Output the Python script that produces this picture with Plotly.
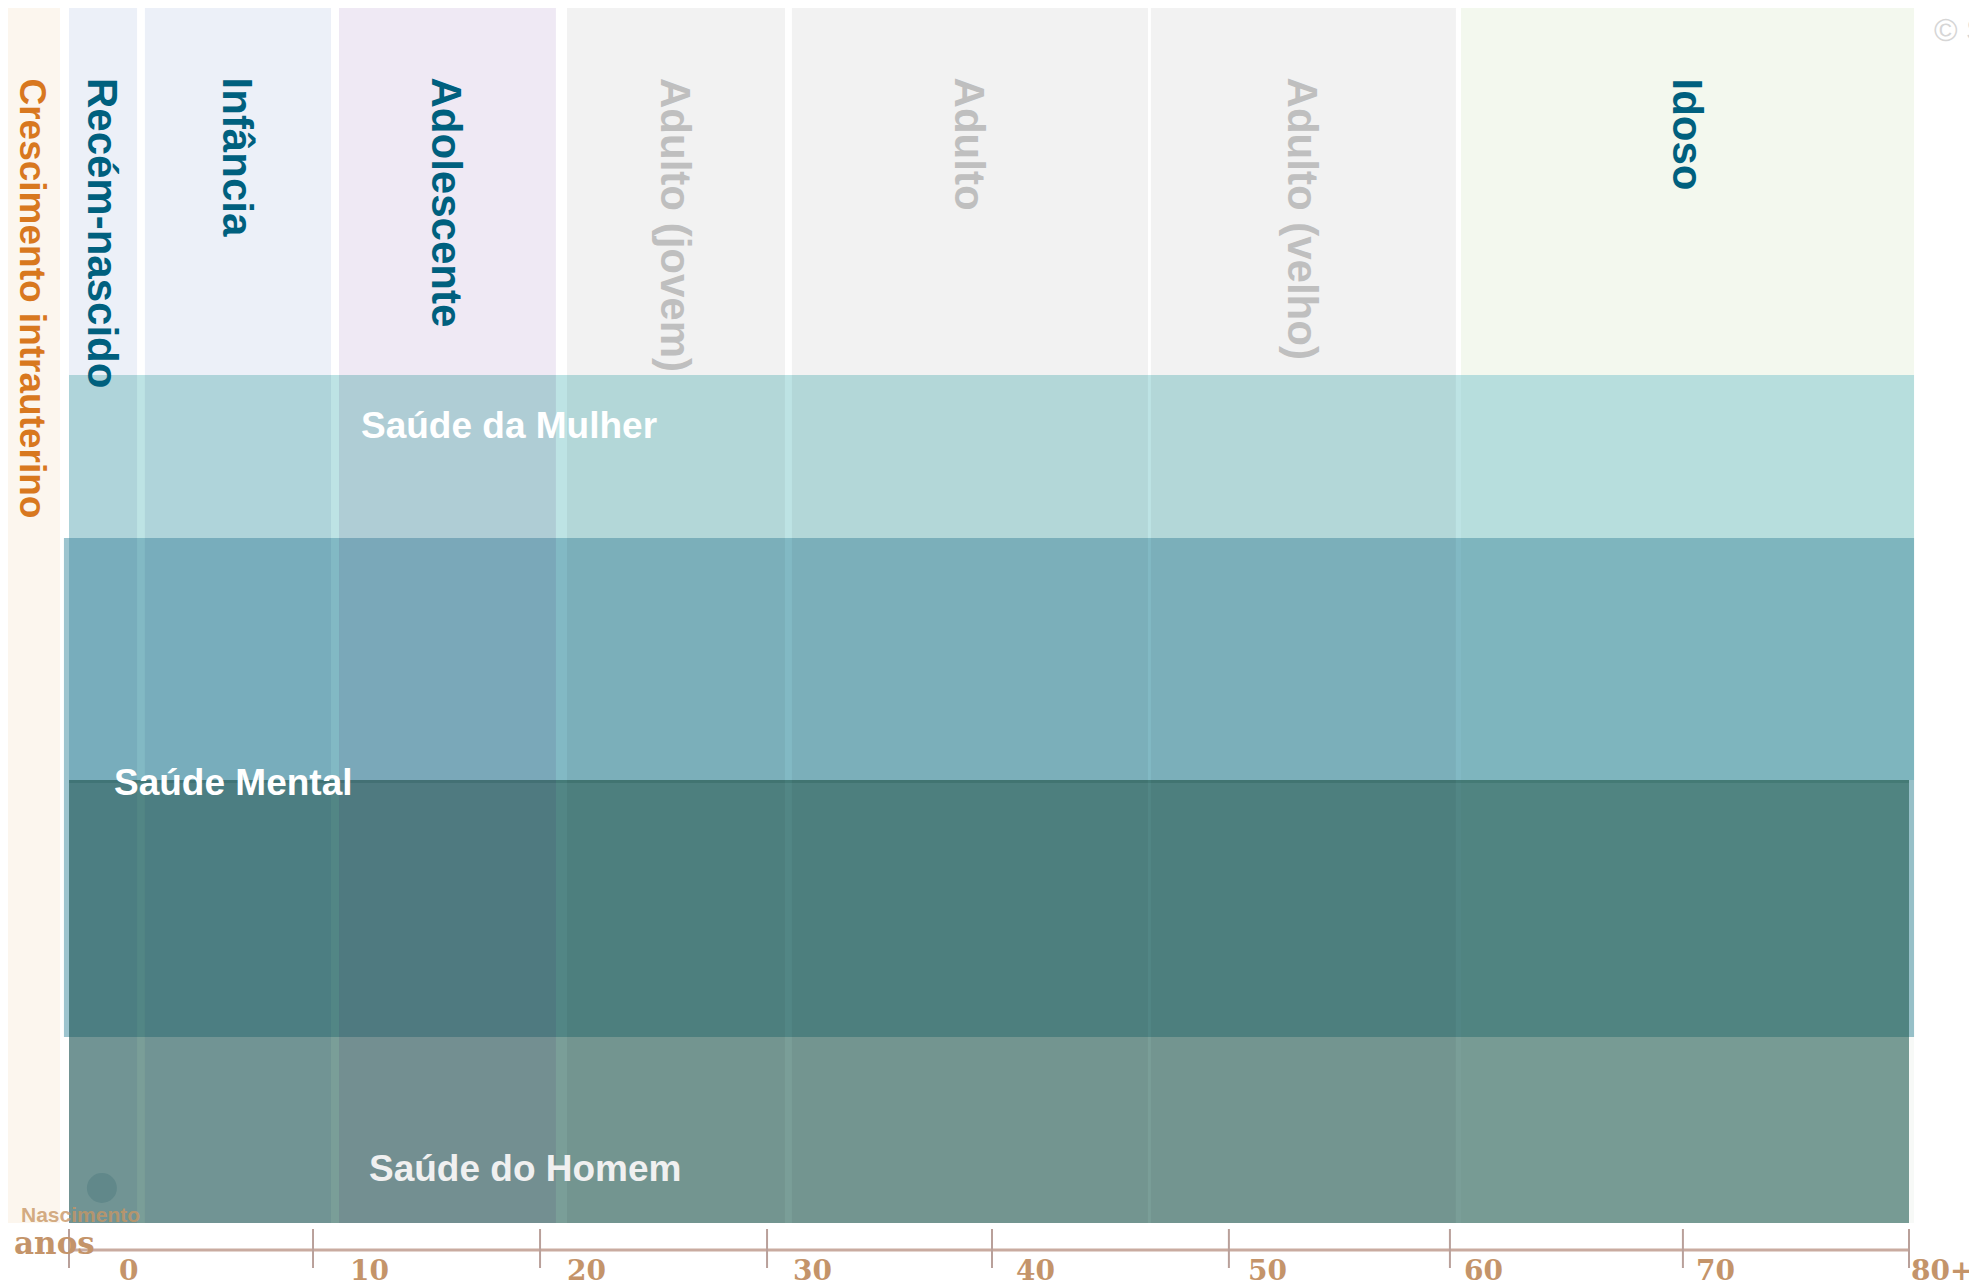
import plotly.graph_objects as go

# ---------------- data ----------------
stage_names = ["Crescimento intrauterino", "Recém-nascido", "Infância", "Adolescente",
               "Adulto (jovem)", "Adulto", "Adulto (velho)", "Idoso"]
stage_start = [-2.78, 0.0, 3.30, 11.74, 21.65, 31.43, 47.04, 60.52]   # age (years)
stage_end = [-0.39, 2.96, 11.39, 21.17, 31.13, 46.91, 60.30, 80.22]

program_names = ["Saúde da Mulher", "Saúde Mental", "Saúde do Homem"]
program_start = [0.0, -0.22, 0.0]
program_end = [80.22, 80.22, 80.0]

tick_labels = ["0", "10", "20", "30", "40", "50", "60", "70", "80+"]
tick_pos = [0.0, 10.61, 20.48, 30.35, 40.13, 50.43, 60.04, 70.17, 80.0]   # where the ticks are drawn

birth_age = 1.43  # "Nascimento" marker

# ---------------- styles / layout ----------------
W, H = 1977, 1285
PAGE_OFF = 8                   # default page margin around the figure
PX0, PXY = 69.0, 23.0          # page pixel of age 0, pixels per year


def px2x(px):
    return (px - PX0) / PXY


stage_fill = ["#FCF6EE", "#ECF0F8", "#ECF0F8", "#EFE9F4", "#F2F2F2", "#F2F2F2", "#F2F2F2", "#F3F8EE"]
stage_overlay = [None, "rgba(9,39,99,0.08)", "rgba(9,39,99,0.08)", "rgba(56,21,86,0.10)",
                 "rgba(0,0,0,0.051)", "rgba(0,0,0,0.051)", "rgba(0,0,0,0.051)", "rgba(40,90,60,0.04)"]
stage_text_color = ["#D8781F", "#00607E", "#00607E", "#00607E", "#BFBFBF", "#BFBFBF", "#BFBFBF", "#00607E"]

program_fill = ["#BDE3E4", "rgba(90,157,175,0.6)", "rgba(33,93,83,0.6)"]
program_y = [(375, 780), (538, 1037), (780, 1223)]
program_text_color = ["#FFFFFF", "#FFFFFF", "#F0F0F0"]
program_text_pos = [(359, 425), (112, 782), (367, 1168)]

label_left_px = [117, 348, 565, 791, 1014, 1246, 1462, 1694, 1909]

COL_TOP, BAND_TOP, BOTTOM = 6, 375, 1223
SANS = "Liberation Sans, Arial, sans-serif"
SERIF = "DejaVu Serif, serif"
TAN = "#C4946A"

shapes = []
annotations = []

# stage columns (top area) and intrauterine column (full height)
for i, name in enumerate(stage_names):
    y1 = BOTTOM if i == 0 else BAND_TOP
    shapes.append(dict(type="rect", xref="x", yref="y", x0=stage_start[i], x1=stage_end[i],
                       y0=COL_TOP, y1=y1, fillcolor=stage_fill[i], line=dict(width=0), layer="below"))

# programme bands
for i, name in enumerate(program_names):
    y0, y1 = program_y[i]
    shapes.append(dict(type="rect", xref="x", yref="y", x0=program_start[i], x1=program_end[i],
                       y0=y0, y1=y1, fillcolor=program_fill[i], line=dict(width=0), layer="below"))
    if i == 2:
        shapes.append(dict(type="line", xref="x", yref="y", x0=program_start[i], x1=program_end[i],
                           y0=y0 + 1.5, y1=y0 + 1.5, line=dict(color="rgba(33,93,83,0.25)", width=3),
                           layer="below"))

# stage tints over the bands
for i, name in enumerate(stage_names):
    if stage_overlay[i] is None:
        continue
    shapes.append(dict(type="rect", xref="x", yref="y", x0=stage_start[i], x1=stage_end[i],
                       y0=BAND_TOP, y1=BOTTOM, fillcolor=stage_overlay[i], line=dict(width=0),
                       layer="below"))

# birth marker
r = 15
shapes.append(dict(type="circle", xref="x", yref="y", x0=birth_age - r / PXY, x1=birth_age + r / PXY,
                   y0=1188 - r, y1=1188 + r, fillcolor="rgba(60,110,115,0.3)", line=dict(width=0),
                   layer="below"))

# axis line and ticks
shapes.append(dict(type="line", xref="x", yref="y", x0=tick_pos[0], x1=tick_pos[-1],
                   y0=1250, y1=1250, line=dict(color="#C9ABA0", width=3), layer="above"))
for v in tick_pos:
    shapes.append(dict(type="line", xref="x", yref="y", x0=v, x1=v, y0=1229, y1=1268,
                       line=dict(color="#B9A09A", width=2), layer="above"))

# stage labels
for i, name in enumerate(stage_names):
    annotations.append(dict(x=(stage_start[i] + stage_end[i]) / 2, y=76, xref="x", yref="y",
                            text=f"<b>{name}</b>", showarrow=False, textangle=90,
                            xanchor="center", yanchor="top",
                            font=dict(family=SANS, size=37 if i == 0 else 42, color=stage_text_color[i])))

# programme labels
for i, name in enumerate(program_names):
    px, py = program_text_pos[i]
    annotations.append(dict(x=px2x(px), y=py, xref="x", yref="y", text=f"<b>{name}</b>",
                            showarrow=False, xanchor="left", yanchor="middle",
                            font=dict(family=SANS, size=37, color=program_text_color[i])))

# tick labels
for lab, left_px in zip(tick_labels, label_left_px):
    annotations.append(dict(x=px2x(left_px), y=1270, xref="x", yref="y", text=f"<b>{lab}</b>",
                            showarrow=False, xanchor="left", yanchor="middle",
                            font=dict(family=SERIF, size=28, color=TAN)))

annotations.append(dict(x=px2x(12), y=1243, xref="x", yref="y", text="<b>anos</b>", showarrow=False,
                        xanchor="left", yanchor="middle", font=dict(family=SERIF, size=31, color=TAN)))
annotations.append(dict(x=px2x(19), y=1214, xref="x", yref="y", text="<b>Nascimento</b>", showarrow=False,
                        xanchor="left", yanchor="middle",
                        font=dict(family=SANS, size=21, color="rgba(200,150,100,0.8)")))
annotations.append(dict(x=px2x(1932), y=30, xref="x", yref="y", text="© <b>S</b>", showarrow=False,
                        xanchor="left", yanchor="middle", font=dict(family=SANS, size=32, color="#D6D6D6")))

fig = go.Figure()
fig.update_layout(
    width=W, height=H,
    margin=dict(l=0, r=0, t=0, b=0),
    paper_bgcolor="white", plot_bgcolor="white",
    xaxis=dict(range=[px2x(PAGE_OFF), px2x(PAGE_OFF + W)], visible=False, fixedrange=True),
    yaxis=dict(range=[PAGE_OFF + H, PAGE_OFF], visible=False, fixedrange=True),
    shapes=shapes, annotations=annotations, showlegend=False,
)
fig.write_html("out.html")
